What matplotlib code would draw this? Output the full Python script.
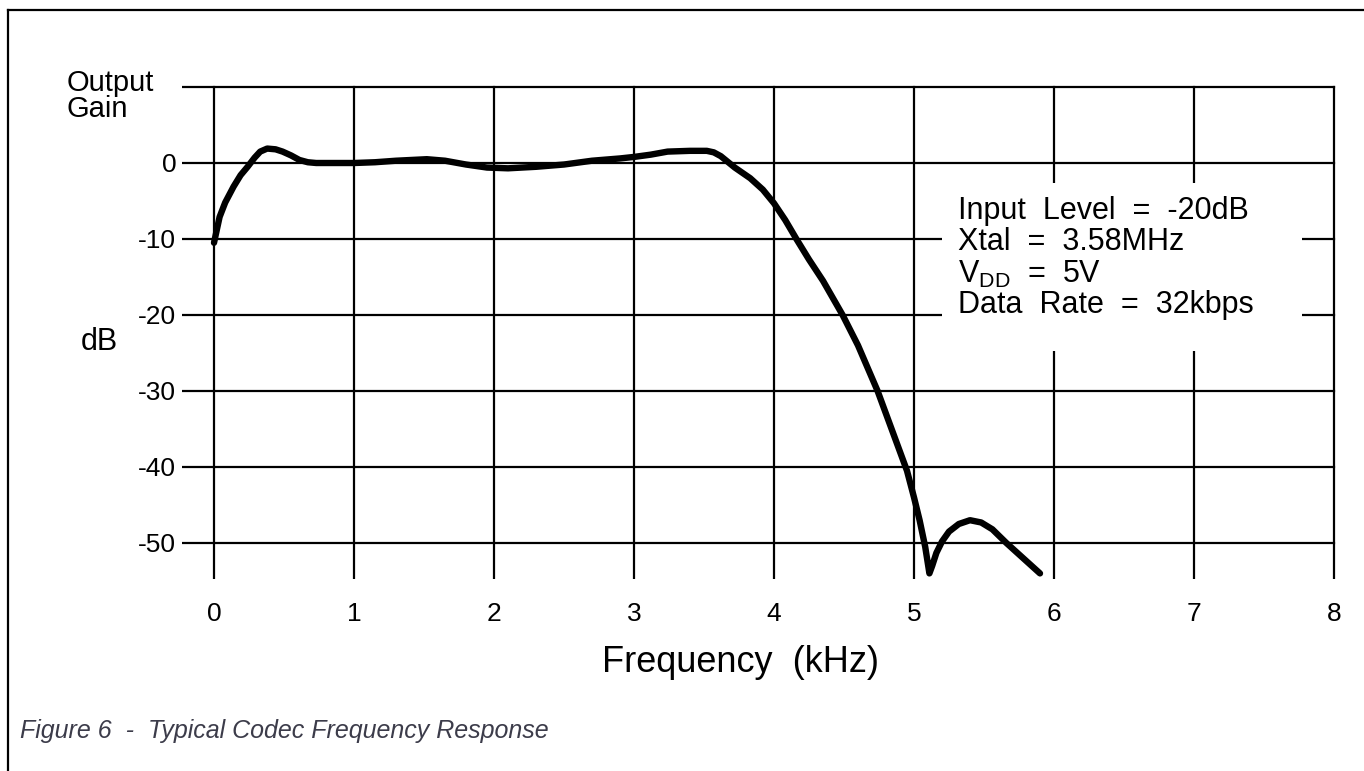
import matplotlib
matplotlib.use("Agg")
import matplotlib.pyplot as plt
from matplotlib.patches import Rectangle
from matplotlib.lines import Line2D

plt.rcParams['font.family'] = ['Liberation Sans', 'DejaVu Sans']
plt.rcParams['mathtext.fontset'] = 'custom'
plt.rcParams['mathtext.rm'] = 'Liberation Sans'
plt.rcParams['mathtext.it'] = 'Liberation Sans:italic'

# frequency response (kHz, dB)
freq_khz = [0.0, 0.02, 0.04, 0.08, 0.14, 0.19, 0.24, 0.29, 0.33, 0.38, 0.44, 0.49,
            0.55, 0.61, 0.67, 0.73, 0.85, 1.0, 1.15, 1.3, 1.52, 1.65, 1.8, 1.95,
            2.1, 2.3, 2.5, 2.7, 2.9, 3.0, 3.12, 3.24, 3.4, 3.52, 3.57, 3.62,
            3.66, 3.72, 3.83, 3.92, 4.0, 4.08, 4.16, 4.25, 4.35, 4.49, 4.6, 4.74,
            4.82, 4.9, 4.95, 5.0, 5.04, 5.08, 5.11, 5.13, 5.16, 5.2, 5.25, 5.32,
            5.4, 5.48, 5.56, 5.66, 5.78, 5.9]
gain_db = [-10.5, -8.8, -7.1, -5.2, -3.1, -1.6, -0.5, 0.7, 1.5, 1.9, 1.8, 1.5,
           1.0, 0.4, 0.1, 0.0, 0.0, 0.0, 0.1, 0.3, 0.5, 0.3, -0.2, -0.6,
           -0.7, -0.5, -0.2, 0.3, 0.6, 0.8, 1.1, 1.5, 1.6, 1.6, 1.4, 0.9,
           0.3, -0.6, -2.0, -3.5, -5.3, -7.5, -10.0, -12.7, -15.5, -20.0, -24.0, -30.0,
           -34.0, -38.0, -40.5, -44.0, -47.0, -50.5, -54.0, -53.0, -51.3, -49.8, -48.5, -47.5,
           -47.0, -47.3, -48.2, -50.0, -52.0, -54.0]

x_ticks = [0, 1, 2, 3, 4, 5, 6, 7, 8]
y_ticks = [0, -10, -20, -30, -40, -50]
y_grid = [10, 0, -10, -20, -30, -40, -50]
notes = ["Input  Level  =  -20dB", "Xtal  =  3.58MHz",
         r"V$_{\mathrm{DD}}$  =  5V", "Data  Rate  =  32kbps"]

W, H = 1364, 771
fig = plt.figure(figsize=(W / 100, H / 100), dpi=100)

XMIN, XMAX = -0.23, 8.03
YMIN, YMAX = -54.8, 10.2
x0_px, kpx = 214, 140.0
y0_px, dbpx = 163, 7.6
left = (x0_px + XMIN * kpx) / W
width = (XMAX - XMIN) * kpx / W
top = y0_px - YMAX * dbpx
height = (YMAX - YMIN) * dbpx / H
ax = fig.add_axes([left, 1 - top / H - height, width, height])
ax.set_xlim(XMIN, XMAX)
ax.set_ylim(YMIN, YMAX)
for s in ax.spines.values():
    s.set_visible(False)

for yv in y_grid:
    ax.plot([XMIN, 8], [yv, yv], color='black', lw=1.6, zorder=1)
for xv in x_ticks:
    ax.plot([xv, xv], [YMIN, 10], color='black', lw=1.6, zorder=1)

# white box behind the test conditions
ax.add_patch(Rectangle((5.2, -24.8), 2.57, 22.2, facecolor='white',
                       edgecolor='none', zorder=2))

ax.plot(freq_khz, gain_db, color='black', lw=4.6, solid_capstyle='round',
        solid_joinstyle='round', zorder=3)

ax.set_xticks(x_ticks)
ax.set_xticklabels([str(v) for v in x_ticks])
ax.set_yticks(y_ticks)
ax.set_yticklabels([str(v) for v in y_ticks])
ax.tick_params(length=0, labelsize=19)
ax.tick_params(axis='x', pad=16)
ax.tick_params(axis='y', pad=4)

for i, t in enumerate(notes):
    fig.text(958 / W, 1 - (211 + i * 31.5) / H, t, fontsize=22, va='center', ha='left')

fig.text(67 / W, 1 - 96 / H, "Output\nGain", fontsize=21, va='center', ha='left',
         linespacing=0.95)
fig.text(99 / W, 1 - 342 / H, "dB", fontsize=22, va='center', ha='center')
fig.text(740 / W, 1 - 662 / H, "Frequency  (kHz)", fontsize=26, va='center', ha='center')
fig.text(20 / W, 1 - 731 / H, "Figure 6  -  Typical Codec Frequency Response",
         fontsize=18, style='italic', color='#3c3c4a', va='center', ha='left')

# page frame: top and left edge
fig.add_artist(Line2D([8 / W, 1], [1 - 10 / H, 1 - 10 / H], color='black', lw=1.6))
fig.add_artist(Line2D([8 / W, 8 / W], [0, 1 - 10 / H], color='black', lw=1.6))

fig.savefig("out.png", dpi=100)
